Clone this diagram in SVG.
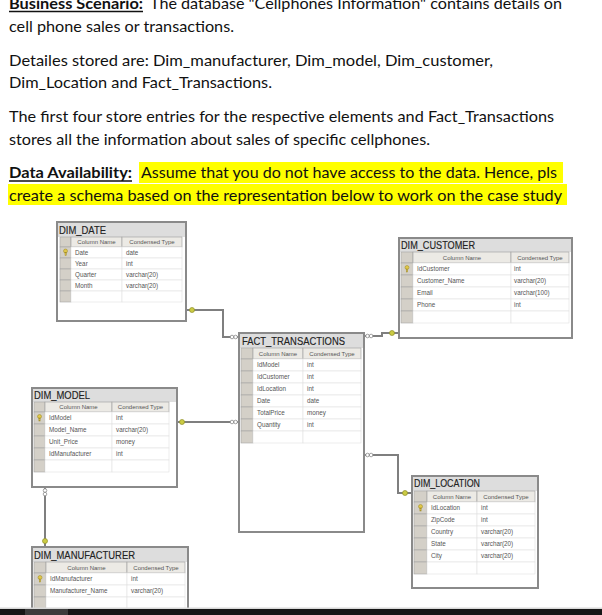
<svg xmlns="http://www.w3.org/2000/svg" width="602" height="615" viewBox="0 0 602 615">
<style>
.p{font-family:Lato,"Liberation Sans",sans-serif;font-size:15px;fill:#111}
.b{font-weight:bold}
.hl{fill:#ffff00}
.box{fill:#fff;stroke:#8a8a8a;stroke-width:2}
.band{fill:#dddddd}
.sel{fill:#d4d0c8;stroke:#a3a3a3;stroke-width:0.6}
.hdr{fill:#eceae5;stroke:#9c9c9c;stroke-width:0.6}
.cell{fill:#fff;stroke:#e0e0e0;stroke-width:0.6}
.ttl{font-family:"Liberation Sans",Arial,sans-serif;font-size:11px;fill:#222;stroke:#222;stroke-width:0.15}
.ct{font-family:"Liberation Sans",Arial,sans-serif;font-size:6.3px;fill:#555}
.hd{font-family:"Liberation Sans",Arial,sans-serif;font-size:6px;fill:#555;text-anchor:middle}
.conn{fill:none;stroke:#7f7f7f;stroke-width:2}
.key{fill:#cccc44;stroke:#8f8f2a;stroke-width:0.7}
.inf{fill:#fff;stroke:#8a8a8a;stroke-width:0.8}
.pk{fill:#e0c84a;stroke:#9a8420;stroke-width:0.5}
</style>

<g id="text">
<text class="p b" x="9" y="9" textLength="134" lengthAdjust="spacingAndGlyphs">Business Scenario:</text>
<line x1="9" y1="11.5" x2="143" y2="11.5" stroke="#111" stroke-width="1.3"/>
<text class="p" x="150" y="9" textLength="412" lengthAdjust="spacingAndGlyphs">The database "Cellphones Information" contains details on</text>
<text class="p" x="9" y="32" textLength="225" lengthAdjust="spacingAndGlyphs">cell phone sales or transactions.</text>
<text class="p" x="9" y="66" textLength="484" lengthAdjust="spacingAndGlyphs">Detailes stored are: Dim_manufacturer, Dim_model, Dim_customer,</text>
<text class="p" x="9" y="88" textLength="263" lengthAdjust="spacingAndGlyphs">Dim_Location and Fact_Transactions.</text>
<text class="p" x="9" y="122" textLength="545" lengthAdjust="spacingAndGlyphs">The first four store entries for the respective elements and Fact_Transactions</text>
<text class="p" x="9" y="145" textLength="421" lengthAdjust="spacingAndGlyphs">stores all the information about sales of specific cellphones.</text>
<rect class="hl" x="139" y="162" width="424" height="21"/>
<rect class="hl" x="8" y="184" width="559" height="21"/>
<text class="p b" x="9" y="178" textLength="123" lengthAdjust="spacingAndGlyphs">Data Availability:</text>
<line x1="9" y1="181" x2="132" y2="181" stroke="#111" stroke-width="1.3"/>
<text class="p" x="141" y="178" textLength="416" lengthAdjust="spacingAndGlyphs">Assume that you do not have access to the data. Hence, pls</text>
<text class="p" x="9" y="201" textLength="553" lengthAdjust="spacingAndGlyphs">create a schema based on the representation below to work on the case study</text>
</g>

<g id="connectors">
<path class="conn" d="M186 310 H223 V337 H239"/>
<circle class="key" cx="192" cy="310" r="2.5"/>
<circle class="inf" cx="232" cy="337" r="1.8"/><circle class="inf" cx="235.6" cy="337" r="1.8"/>
<path class="conn" d="M177 422 H239"/>
<circle class="key" cx="182" cy="422" r="2.5"/>
<circle class="inf" cx="232" cy="422" r="1.8"/><circle class="inf" cx="235.6" cy="422" r="1.8"/>
<path class="conn" d="M364 336 H382 V333 H399"/>
<circle class="inf" cx="367.5" cy="336" r="1.8"/><circle class="inf" cx="371.1" cy="336" r="1.8"/>
<circle class="key" cx="392" cy="333" r="2.5"/>
<path class="conn" d="M364 455 H398 V493 H412"/>
<circle class="inf" cx="367.5" cy="455" r="1.8"/><circle class="inf" cx="371.1" cy="455" r="1.8"/>
<circle class="key" cx="405" cy="493" r="2.5"/>
<path class="conn" d="M45 487 V547"/>
<circle class="inf" cx="45" cy="490.5" r="1.8"/><circle class="inf" cx="45" cy="494.1" r="1.8"/>
<circle class="key" cx="45" cy="541" r="2.5"/>
</g>

<g id="dim_date">
<rect class="box" x="57" y="222" width="129" height="99"/>
<rect class="band" x="58" y="223" width="127" height="14"/>
<text class="ttl" x="59" y="233.5" textLength="47" lengthAdjust="spacingAndGlyphs">DIM_DATE</text>
<rect class="sel" x="60" y="237" width="11" height="10"/>
<rect class="hdr" x="71" y="237" width="51" height="10"/>
<rect class="hdr" x="122" y="237" width="60" height="10"/>
<text class="hd" x="96.5" y="244.2">Column Name</text>
<text class="hd" x="152" y="244.2">Condensed Type</text>
<rect class="sel" x="60" y="247" width="11" height="11"/><rect class="cell" x="71" y="247" width="51" height="11"/><rect class="cell" x="122" y="247" width="60" height="11"/>
<rect class="sel" x="60" y="258" width="11" height="11"/><rect class="cell" x="71" y="258" width="51" height="11"/><rect class="cell" x="122" y="258" width="60" height="11"/>
<rect class="sel" x="60" y="269" width="11" height="11"/><rect class="cell" x="71" y="269" width="51" height="11"/><rect class="cell" x="122" y="269" width="60" height="11"/>
<rect class="sel" x="60" y="280" width="11" height="11"/><rect class="cell" x="71" y="280" width="51" height="11"/><rect class="cell" x="122" y="280" width="60" height="11"/>
<rect class="sel" x="60" y="291" width="11" height="11"/><rect class="cell" x="71" y="291" width="51" height="11"/><rect class="cell" x="122" y="291" width="60" height="11"/>
<circle class="pk" cx="65.5" cy="251" r="2"/><rect class="pk" x="65" y="252.5" width="1.2" height="3"/>
<text class="ct" x="75" y="254.8">Date</text><text class="ct" x="126" y="254.8">date</text>
<text class="ct" x="75" y="265.8">Year</text><text class="ct" x="126" y="265.8">int</text>
<text class="ct" x="75" y="276.8">Quarter</text><text class="ct" x="126" y="276.8">varchar(20)</text>
<text class="ct" x="75" y="287.8">Month</text><text class="ct" x="126" y="287.8">varchar(20)</text>
</g>

<g id="dim_customer">
<rect class="box" x="399" y="238" width="173" height="100"/>
<rect class="band" x="400" y="239" width="171" height="13"/>
<text class="ttl" x="401" y="249" textLength="74" lengthAdjust="spacingAndGlyphs">DIM_CUSTOMER</text>
<rect class="sel" x="401" y="252" width="12" height="11"/>
<rect class="hdr" x="413" y="252" width="98" height="11"/>
<rect class="hdr" x="511" y="252" width="58" height="11"/>
<text class="hd" x="462" y="259.7">Column Name</text>
<text class="hd" x="540" y="259.7">Condensed Type</text>
<rect class="sel" x="401" y="263" width="12" height="12"/><rect class="cell" x="413" y="263" width="98" height="12"/><rect class="cell" x="511" y="263" width="58" height="12"/>
<rect class="sel" x="401" y="275" width="12" height="12"/><rect class="cell" x="413" y="275" width="98" height="12"/><rect class="cell" x="511" y="275" width="58" height="12"/>
<rect class="sel" x="401" y="287" width="12" height="12"/><rect class="cell" x="413" y="287" width="98" height="12"/><rect class="cell" x="511" y="287" width="58" height="12"/>
<rect class="sel" x="401" y="299" width="12" height="12"/><rect class="cell" x="413" y="299" width="98" height="12"/><rect class="cell" x="511" y="299" width="58" height="12"/>
<rect class="sel" x="401" y="311" width="12" height="12"/><rect class="cell" x="413" y="311" width="98" height="12"/><rect class="cell" x="511" y="311" width="58" height="12"/>
<circle class="pk" cx="407" cy="267.5" r="2"/><rect class="pk" x="406.4" y="269" width="1.2" height="3"/>
<text class="ct" x="417" y="271.3">IdCustomer</text><text class="ct" x="514" y="271.3">int</text>
<text class="ct" x="417" y="283.3">Customer_Name</text><text class="ct" x="514" y="283.3">varchar(20)</text>
<text class="ct" x="417" y="295.3">Email</text><text class="ct" x="514" y="295.3">varchar(100)</text>
<text class="ct" x="417" y="307.3">Phone</text><text class="ct" x="514" y="307.3">int</text>
</g>

<g id="fact_transactions">
<rect class="box" x="239" y="333" width="125" height="199"/>
<rect class="band" x="240" y="334" width="123" height="14"/>
<text class="ttl" x="242" y="345" textLength="103" lengthAdjust="spacingAndGlyphs">FACT_TRANSACTIONS</text>
<rect class="sel" x="241" y="348" width="12" height="11"/>
<rect class="hdr" x="253" y="348" width="50" height="11"/>
<rect class="hdr" x="303" y="348" width="58" height="11"/>
<text class="hd" x="278" y="355.7">Column Name</text>
<text class="hd" x="332" y="355.7">Condensed Type</text>
<rect class="sel" x="241" y="359" width="12" height="12"/><rect class="cell" x="253" y="359" width="50" height="12"/><rect class="cell" x="303" y="359" width="58" height="12"/>
<rect class="sel" x="241" y="371" width="12" height="12"/><rect class="cell" x="253" y="371" width="50" height="12"/><rect class="cell" x="303" y="371" width="58" height="12"/>
<rect class="sel" x="241" y="383" width="12" height="12"/><rect class="cell" x="253" y="383" width="50" height="12"/><rect class="cell" x="303" y="383" width="58" height="12"/>
<rect class="sel" x="241" y="395" width="12" height="12"/><rect class="cell" x="253" y="395" width="50" height="12"/><rect class="cell" x="303" y="395" width="58" height="12"/>
<rect class="sel" x="241" y="407" width="12" height="12"/><rect class="cell" x="253" y="407" width="50" height="12"/><rect class="cell" x="303" y="407" width="58" height="12"/>
<rect class="sel" x="241" y="419" width="12" height="12"/><rect class="cell" x="253" y="419" width="50" height="12"/><rect class="cell" x="303" y="419" width="58" height="12"/>
<rect class="sel" x="241" y="431" width="12" height="12"/><rect class="cell" x="253" y="431" width="50" height="12"/><rect class="cell" x="303" y="431" width="58" height="12"/>
<text class="ct" x="257" y="367.3">IdModel</text><text class="ct" x="307" y="367.3">int</text>
<text class="ct" x="257" y="379.3">IdCustomer</text><text class="ct" x="307" y="379.3">int</text>
<text class="ct" x="257" y="391.3">IdLocation</text><text class="ct" x="307" y="391.3">int</text>
<text class="ct" x="257" y="403.3">Date</text><text class="ct" x="307" y="403.3">date</text>
<text class="ct" x="257" y="415.3">TotalPrice</text><text class="ct" x="307" y="415.3">money</text>
<text class="ct" x="257" y="427.3">Quantity</text><text class="ct" x="307" y="427.3">int</text>
</g>

<g id="dim_model">
<rect class="box" x="32" y="388" width="145" height="99"/>
<rect class="band" x="33" y="389" width="143" height="13"/>
<text class="ttl" x="34" y="399" textLength="56" lengthAdjust="spacingAndGlyphs">DIM_MODEL</text>
<rect class="sel" x="34" y="402" width="11" height="10"/>
<rect class="hdr" x="45" y="402" width="67" height="10"/>
<rect class="hdr" x="112" y="402" width="57" height="10"/>
<text class="hd" x="78.5" y="409.2">Column Name</text>
<text class="hd" x="140.5" y="409.2">Condensed Type</text>
<rect class="sel" x="34" y="412" width="11" height="12"/><rect class="cell" x="45" y="412" width="67" height="12"/><rect class="cell" x="112" y="412" width="57" height="12"/>
<rect class="sel" x="34" y="424" width="11" height="12"/><rect class="cell" x="45" y="424" width="67" height="12"/><rect class="cell" x="112" y="424" width="57" height="12"/>
<rect class="sel" x="34" y="436" width="11" height="12"/><rect class="cell" x="45" y="436" width="67" height="12"/><rect class="cell" x="112" y="436" width="57" height="12"/>
<rect class="sel" x="34" y="448" width="11" height="12"/><rect class="cell" x="45" y="448" width="67" height="12"/><rect class="cell" x="112" y="448" width="57" height="12"/>
<rect class="sel" x="34" y="460" width="11" height="12"/><rect class="cell" x="45" y="460" width="67" height="12"/><rect class="cell" x="112" y="460" width="57" height="12"/>
<circle class="pk" cx="39.5" cy="416.5" r="2"/><rect class="pk" x="38.9" y="418" width="1.2" height="3"/>
<text class="ct" x="49" y="420.3">IdModel</text><text class="ct" x="116" y="420.3">int</text>
<text class="ct" x="49" y="432.3">Model_Name</text><text class="ct" x="116" y="432.3">varchar(20)</text>
<text class="ct" x="49" y="444.3">Unit_Price</text><text class="ct" x="116" y="444.3">money</text>
<text class="ct" x="49" y="456.3">IdManufacturer</text><text class="ct" x="116" y="456.3">int</text>
</g>

<g id="dim_manufacturer">
<rect class="box" x="32" y="547" width="156" height="66"/>
<rect class="band" x="33" y="548" width="154" height="14"/>
<text class="ttl" x="34" y="558.5" textLength="101" lengthAdjust="spacingAndGlyphs">DIM_MANUFACTURER</text>
<rect class="sel" x="34" y="562" width="12" height="11"/>
<rect class="hdr" x="46" y="562" width="81" height="11"/>
<rect class="hdr" x="127" y="562" width="58" height="11"/>
<text class="hd" x="86.5" y="569.7">Column Name</text>
<text class="hd" x="156" y="569.7">Condensed Type</text>
<rect class="sel" x="34" y="573" width="12" height="12"/><rect class="cell" x="46" y="573" width="81" height="12"/><rect class="cell" x="127" y="573" width="58" height="12"/>
<rect class="sel" x="34" y="585" width="12" height="12"/><rect class="cell" x="46" y="585" width="81" height="12"/><rect class="cell" x="127" y="585" width="58" height="12"/>
<rect class="sel" x="34" y="597" width="12" height="12"/><rect class="cell" x="46" y="597" width="81" height="12"/><rect class="cell" x="127" y="597" width="58" height="12"/>
<circle class="pk" cx="40" cy="577.5" r="2"/><rect class="pk" x="39.4" y="579" width="1.2" height="3"/>
<text class="ct" x="50" y="581.3">IdManufacturer</text><text class="ct" x="131" y="581.3">int</text>
<text class="ct" x="50" y="593.3">Manufacturer_Name</text><text class="ct" x="131" y="593.3">varchar(20)</text>
</g>

<g id="dim_location">
<rect class="box" x="412" y="476" width="126" height="112"/>
<rect class="band" x="413" y="477" width="124" height="14"/>
<text class="ttl" x="414" y="487" textLength="66" lengthAdjust="spacingAndGlyphs">DIM_LOCATION</text>
<rect class="sel" x="414" y="491" width="13" height="11"/>
<rect class="hdr" x="427" y="491" width="50" height="11"/>
<rect class="hdr" x="477" y="491" width="58" height="11"/>
<text class="hd" x="452" y="498.7">Column Name</text>
<text class="hd" x="506" y="498.7">Condensed Type</text>
<rect class="sel" x="414" y="502" width="13" height="12"/><rect class="cell" x="427" y="502" width="50" height="12"/><rect class="cell" x="477" y="502" width="58" height="12"/>
<rect class="sel" x="414" y="514" width="13" height="12"/><rect class="cell" x="427" y="514" width="50" height="12"/><rect class="cell" x="477" y="514" width="58" height="12"/>
<rect class="sel" x="414" y="526" width="13" height="12"/><rect class="cell" x="427" y="526" width="50" height="12"/><rect class="cell" x="477" y="526" width="58" height="12"/>
<rect class="sel" x="414" y="538" width="13" height="12"/><rect class="cell" x="427" y="538" width="50" height="12"/><rect class="cell" x="477" y="538" width="58" height="12"/>
<rect class="sel" x="414" y="550" width="13" height="12"/><rect class="cell" x="427" y="550" width="50" height="12"/><rect class="cell" x="477" y="550" width="58" height="12"/>
<rect class="sel" x="414" y="562" width="13" height="12"/><rect class="cell" x="427" y="562" width="50" height="12"/><rect class="cell" x="477" y="562" width="58" height="12"/>
<circle class="pk" cx="420.5" cy="506.5" r="2"/><rect class="pk" x="419.9" y="508" width="1.2" height="3"/>
<text class="ct" x="431" y="510.3">IdLocation</text><text class="ct" x="481" y="510.3">int</text>
<text class="ct" x="431" y="522.3">ZipCode</text><text class="ct" x="481" y="522.3">int</text>
<text class="ct" x="431" y="534.3">Country</text><text class="ct" x="481" y="534.3">varchar(20)</text>
<text class="ct" x="431" y="546.3">State</text><text class="ct" x="481" y="546.3">varchar(20)</text>
<text class="ct" x="431" y="558.3">City</text><text class="ct" x="481" y="558.3">varchar(20)</text>
</g>

<g id="bottom-bar">
<rect x="0" y="607.5" width="602" height="1.5" fill="#d8d8d8"/>
<rect x="0" y="609" width="602" height="6" fill="#161616"/>
<rect x="25" y="609" width="43" height="6" fill="#3c3c3c"/>
</g>
</svg>
